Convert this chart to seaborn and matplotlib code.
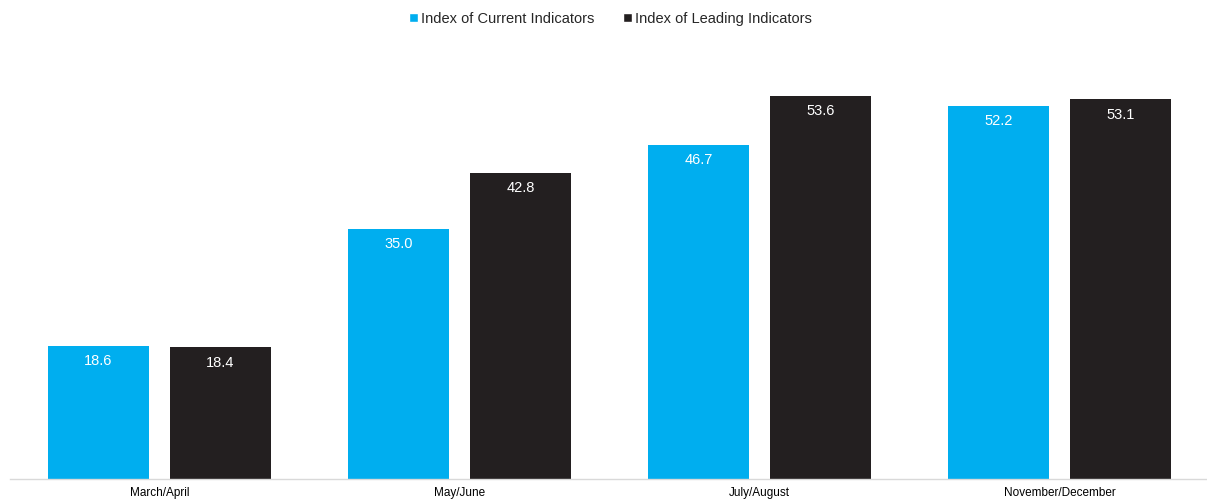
import matplotlib
matplotlib.use("Agg")
import matplotlib.pyplot as plt
import seaborn as sns
import pandas as pd
from matplotlib.patches import Patch

categories = ["March/April", "May/June", "July/August", "November/December"]
series_names = ["Index of Current Indicators", "Index of Leading Indicators"]
current_vals = [18.6, 35.0, 46.7, 52.2]
leading_vals = [18.4, 42.8, 53.6, 53.1]
colors = ["#00AEEF", "#231F20"]

df = pd.DataFrame({
    "period": categories * 2,
    "series": [series_names[0]] * 4 + [series_names[1]] * 4,
    "value": current_vals + leading_vals,
})

sns.set_theme(style="white")
plt.rcParams["font.family"] = ["Liberation Sans", "DejaVu Sans"]

fig = plt.figure(figsize=(12.07, 5.0), dpi=100)
ax = fig.add_axes([9.5 / 1207, 21 / 500, 1200 / 1207, 429 / 500])

sns.barplot(data=df, x="period", y="value", hue="series", palette=colors,
            order=categories, hue_order=series_names, width=0.813, gap=0.171,
            saturation=1, ax=ax, legend=False, linewidth=0)

ax.set_xlim(-0.5, 3.5)
ax.set_ylim(0, 60)
for c in ax.containers:
    for bar in c:
        h = bar.get_height()
        ax.annotate(f"{h:.1f}", (bar.get_x() + bar.get_width() / 2, h),
                    xytext=(0, -11), textcoords="offset points",
                    ha="center", va="center", color="white", fontsize=10.5)

ax.set_xlabel("")
ax.set_ylabel("")
ax.set_yticks([])
ax.tick_params(axis="x", labelsize=8.5, length=0, pad=6, colors="#000000")
for s in ["top", "right", "left"]:
    ax.spines[s].set_visible(False)
ax.spines["bottom"].set_color("#D9D9D9")
ax.spines["bottom"].set_linewidth(1)

handles = [Patch(facecolor=colors[0]), Patch(facecolor=colors[1])]
fig.legend(handles, series_names, loc="center",
           bbox_to_anchor=(0.5 + 7 / 1207, 1 - 19 / 500),
           ncol=2, frameon=False, fontsize=10.5, handlelength=0.6, handleheight=0.6,
           handletextpad=0.2, columnspacing=2.0)

fig.savefig("out.png", dpi=100)
